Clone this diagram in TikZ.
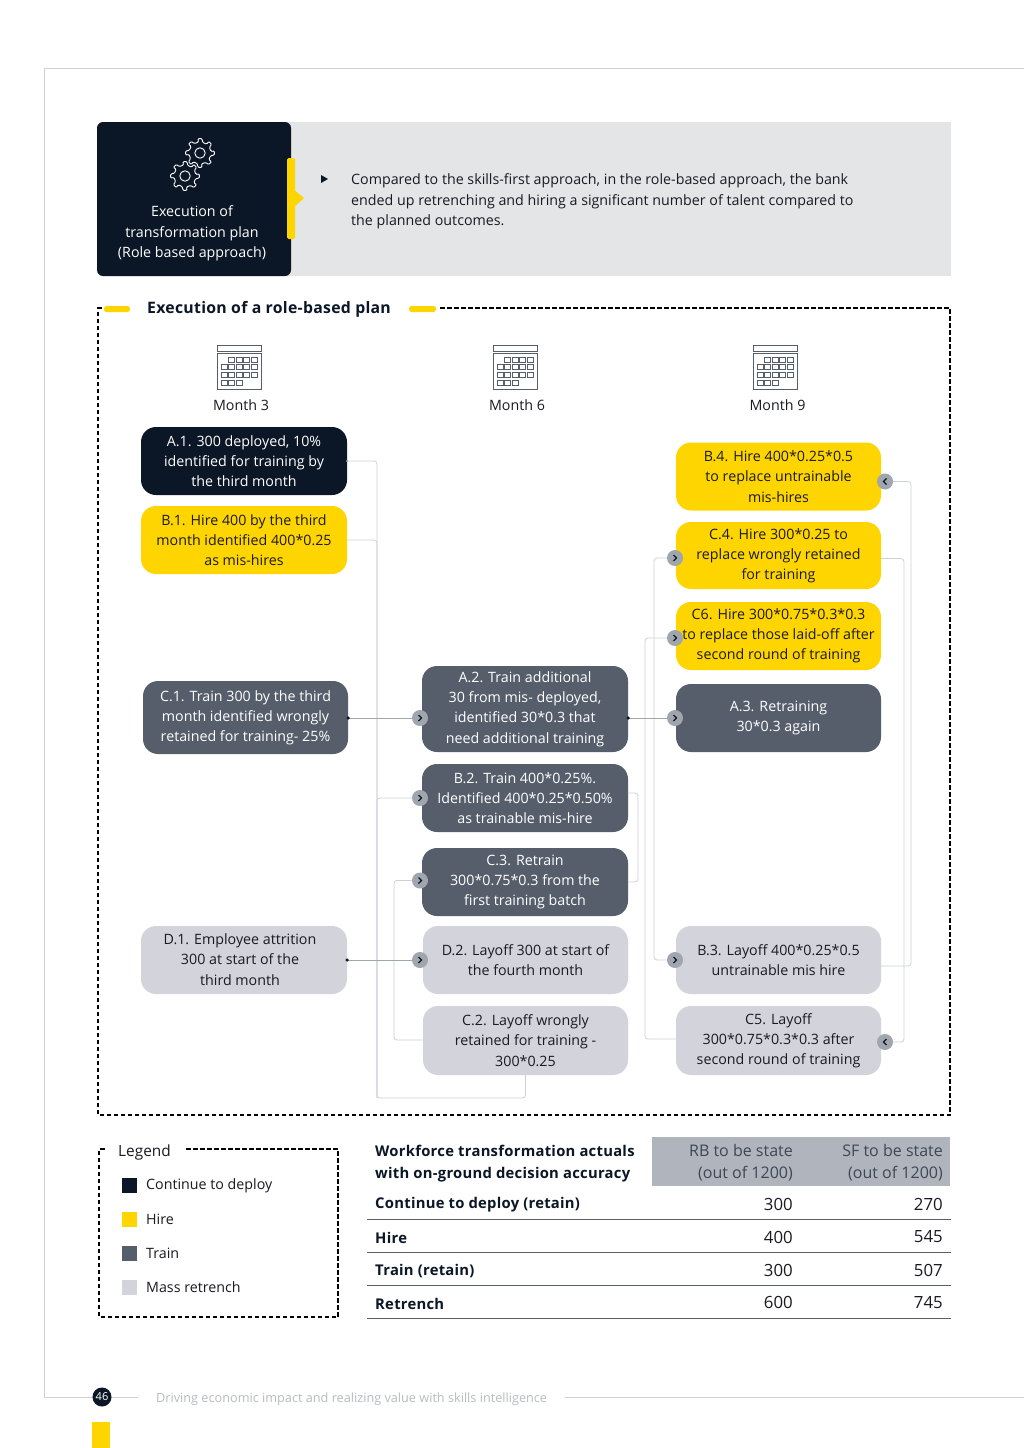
\documentclass[tikz,border=0pt]{standalone}
\usepackage{fontspec}
\setmainfont{Open Sans}
\newfontfamily\tablebold[LetterSpace=1.8]{Open Sans}
\definecolor{cdark}{HTML}{0B1626}
\definecolor{cyel}{HTML}{FFD500}
\definecolor{cslate}{HTML}{565E6B}
\definecolor{clight}{HTML}{D3D3DB}
\definecolor{cmark}{HTML}{A0A6AE}
\definecolor{cline}{HTML}{CDD1D6}
\definecolor{cpanel}{HTML}{E4E5E7}
\definecolor{ctxt}{HTML}{1A1A24}
\definecolor{cfoot}{HTML}{B8BBBF}
\definecolor{chead}{HTML}{B0B5BD}
\definecolor{chtx}{HTML}{3F4754}
\tikzset{
  bx/.style={rounded corners=15pt,inner sep=0pt,align=center,font=\fontsize{14.25}{20.2}\selectfont},
  bdark/.style={bx,fill=cdark,text=white},
  byel/.style={bx,fill=cyel,text=ctxt},
  bslate/.style={bx,fill=cslate,text=white},
  blight/.style={bx,fill=clight,text=ctxt},
  mk/.style={circle,fill=cmark,minimum size=16pt,inner sep=0pt},
  chev/.style={draw=cdark,line width=1.3pt},
  con/.style={draw=cline,line width=.8pt,rounded corners=3pt},
  cond/.style={draw=cmark,line width=.8pt},
  dotn/.style={circle,fill=cdark,minimum size=3.5pt,inner sep=0pt},
  dashbox/.style={draw=black,line width=1.4pt,dash pattern=on 4.5pt off 2.5pt},
  txt/.style={inner sep=0pt,text=ctxt,font=\fontsize{14.25}{20.2}\selectfont},
  btxt/.style={inner sep=0pt,text=cdark,font=\tablebold\fontsize{14.8}{22}\selectfont\bfseries},
  hdr/.style={inner sep=0pt,anchor=east,align=right,text=chtx,font=\fontsize{16}{22}\selectfont},
  val/.style={inner sep=0pt,anchor=east,text=ctxt,font=\fontsize{16.8}{22}\selectfont},
  rowl/.style={draw=cslate,line width=1pt},
  cal/.style={draw=cslate,line width=.9pt},
}
\newcommand{\calicon}[2]{%
  \begin{scope}[shift={(#1,#2)}]
    \draw[cal] (-22,-21.5) rectangle (22,-16);
    \draw[cal] (-22,-14) rectangle (22,22);
    \foreach \c in {1,2,3,4} \draw[cal] ({-11+7.5*(\c-1)},-10) rectangle ++(6,5);
    \foreach \c in {0,1,2,3,4} \draw[cal] ({-18.5+7.5*\c},-3) rectangle ++(6,5.5);
    \foreach \c in {0,1,2,3,4} \draw[cal] ({-18.5+7.5*\c},5) rectangle ++(6,5.5);
    \foreach \c in {0,1,2} \draw[cal] ({-18.5+7.5*\c},13) rectangle ++(6,5);
  \end{scope}}
\newcommand{\gearicon}[2]{%
  \begin{scope}[shift={(#1,#2)}]
    \draw[white,line width=.9pt,rounded corners=1pt]
      (-8:11) \foreach \a in {0,45,...,315} {
        -- (\a-8:14.5) -- (\a+8:14.5) -- (\a+14:11) -- (\a+37:11)
      } -- cycle;
    \draw[white,line width=.9pt] (0,0) circle (5.2);
  \end{scope}}
\newcommand{\mkright}[3]{% name,x,y
  \node[mk] (#1) at (#2,#3) {};
  \draw[chev] ([shift={(-1.5pt,3pt)}]#1.center) -- ([shift={(1.5pt,0pt)}]#1.center) -- ([shift={(-1.5pt,-3pt)}]#1.center);}
\newcommand{\mkleft}[3]{%
  \node[mk] (#1) at (#2,#3) {};
  \draw[chev] ([shift={(1.5pt,3pt)}]#1.center) -- ([shift={(-1.5pt,0pt)}]#1.center) -- ([shift={(1.5pt,-3pt)}]#1.center);}
\begin{document}
\begin{tikzpicture}[x=1pt,y=-1pt]
\useasboundingbox (0,0) rectangle (1024,1448);
\fill[white] (0,0) rectangle (1024,1448);
% page frame
\draw[cline,line width=.7pt] (1024,68) -- (44,68) -- (44,1397) -- (138,1397);
\draw[cline,line width=.7pt] (565,1397) -- (1024,1397);
\node[circle,fill=cdark,text=white,minimum size=19pt,inner sep=0pt,font=\fontsize{11}{11}\selectfont] (pg) at (102,1397) {46};
\fill[cyel] (92,1422) rectangle (110,1448);
\node[anchor=west,inner sep=0pt,text=cfoot,font=\fontsize{12.7}{16}\selectfont] (foot) at (156,1399) {Driving economic impact and realizing value with skills intelligence};
% header
\fill[cpanel] (285,122) rectangle (951,276);
\fill[cdark,rounded corners=6pt] (97,122) rectangle (291,276);
\fill[cyel,rounded corners=1.5pt] (287,158) rectangle (295,239);
\fill[cyel] (294,190) -- (304,198) -- (294,207) -- cycle;
\gearicon{200}{153}
\gearicon{185}{176}
\node[inner sep=0pt,align=center,text=white,font=\fontsize{14.25}{20.4}\selectfont] (htitle) at (192,233.5) {Execution of\\transformation plan\\(Role based approach)};
\fill[cdark] (321,175) -- (328,179) -- (321,183) -- cycle;
\node[anchor=north west,inner sep=0pt,align=left,text=ctxt,font=\fontsize{14.25}{20.6}\selectfont] (htext) at (351,173.5) {Compared to the skills-first approach, in the role-based approach, the bank\\ended up retrenching and hiring a significant number of talent compared to\\the planned outcomes.};
% main dashed frame
\draw[dashbox] (440,308) -- (950,308) -- (950,1115) -- (98,1115) -- (98,308) -- (102,308);
\fill[cyel,rounded corners=2.5pt] (104,306) rectangle (130,312);
\fill[cyel,rounded corners=2.5pt] (409,306) rectangle (436,312);
\node[anchor=west,inner sep=0pt,text=cdark,font=\tablebold\fontsize{15.8}{20}\selectfont\bfseries] (ptitle) at (147,309) {Execution of a role-based plan};
% months
\calicon{239.5}{367}
\calicon{515.5}{367}
\calicon{775.5}{367}
\node[txt] (m3) at (241,405.5) {Month 3};
\node[txt] (m6) at (517,405.5) {Month 6};
\node[txt] (m9) at (777.5,405.5) {Month 9};
% boxes
\node[bdark,minimum width=206pt,minimum height=68pt] (a1) at (244,461) {A.1. 300 deployed, 10\%\\identified for training by\\the third month};
\node[byel,minimum width=206pt,minimum height=68pt] (b1) at (244,540) {B.1. Hire 400 by the third\\month identified 400*0.25\\as mis-hires};
\node[bslate,minimum width=205pt,minimum height=73pt] (c1) at (245.5,717.5) {C.1. Train 300 by the third\\month identified wrongly\\retained for training- 25\%};
\node[blight,minimum width=206pt,minimum height=68pt] (d1) at (244,960) {};
\node[txt,align=center] (d1t) at (240,959.5) {D.1. Employee attrition\\300 at start of the\\third month};
\node[bslate,minimum width=206pt,minimum height=86pt] (a2) at (525,709) {A.2. Train additional\\30 from mis- deployed,\\identified 30*0.3 that\\need additional training};
\node[bslate,minimum width=206pt,minimum height=68pt] (b2) at (525,798) {B.2. Train 400*0.25\%.\\Identified 400*0.25*0.50\%\\as trainable mis-hire};
\node[bslate,minimum width=206pt,minimum height=68pt] (c3) at (525,882) {C.3. Retrain\\300*0.75*0.3 from the\\first training batch};
\node[blight,minimum width=205pt,minimum height=68pt] (d2) at (525.5,960) {D.2. Layoff 300 at start of\\the fourth month};
\node[blight,minimum width=205pt,minimum height=69pt] (c2) at (525.5,1040.5) {C.2. Layoff wrongly\\retained for training -\\300*0.25};
\node[byel,minimum width=205pt,minimum height=68pt] (b4) at (778.5,476.5) {B.4. Hire 400*0.25*0.5\\to replace untrainable\\mis-hires};
\node[byel,minimum width=205pt,minimum height=67pt] (c4) at (778.5,555.5) {C.4. Hire 300*0.25 to\\replace wrongly retained\\for training};
\node[byel,minimum width=205pt,minimum height=68pt] (c6) at (778.5,636) {C6. Hire 300*0.75*0.3*0.3\\to replace those laid-off after\\second round of training};
\node[bslate,minimum width=205pt,minimum height=68pt] (a3) at (778.5,718) {A.3. Retraining\\30*0.3 again};
\node[blight,minimum width=205pt,minimum height=68pt] (b3) at (778.5,960) {B.3. Layoff 400*0.25*0.5\\untrainable mis hire};
\node[blight,minimum width=205pt,minimum height=69pt] (c5) at (778.5,1040.5) {C5. Layoff\\300*0.75*0.3*0.3 after\\second round of training};
% markers
\mkright{ma2}{420}{718}
\mkright{mb2}{420}{798}
\mkright{mc3}{420}{880.5}
\mkright{md2}{420}{960}
\mkright{ma3}{675}{718}
\mkright{mc4}{675}{558}
\mkright{mc6}{675}{638}
\mkright{mb3}{675}{960}
\mkleft{mb4}{885}{481.5}
\mkleft{mc5}{885}{1042}
% rails
\coordinate (railA) at (377,1098);
\coordinate (railB) at (638,882);
\coordinate (railC) at (394,1040);
\coordinate (railD) at (654,960);
\coordinate (railE) at (645,1039);
\coordinate (railF) at (911,966);
\coordinate (railG) at (904,1042);
% connectors
\draw[con] (a1.east) -| (railA) -| (c2.south);
\draw[con] (b1.east) -| (railA);
\draw[con] (mb2.west) -| (railA);
\draw[con] ([yshift=5pt]b2.east) -| (railB) -- (c3.east |- railB);
\draw[con] (mc3.west) -| (railC) -- (c2.west |- railC);
\draw[con] (mc4.west) -| (railD) -- (mb3.west);
\draw[con] (mc6.west) -| (railE) -- (c5.west |- railE);
\draw[con] (mb4.east) -| (railF) -- (b3.east |- railF);
\draw[con] ([yshift=-3pt]c4.east) -| (railG) -- (mc5.east);
\draw[cond] (c1.east |- ma2) -- (ma2.west);
\draw[cond] (a2.east |- ma3) -- (ma3.west);
\draw[cond] (d1.east) -- (md2.west);
\node[dotn] (dc1) at (c1.east |- ma2) {};
\node[dotn] (da2) at (a2.east |- ma3) {};
\node[dotn] (dd1) at (d1.east) {};
\node[dotn,minimum size=2.5pt,fill=cmark] (da1) at (a1.east) {};
% legend
\draw[dashbox] (186,1149) -- (338,1149) -- (338,1317) -- (99,1317) -- (99,1149) -- (107,1149);
\node[anchor=west,inner sep=0pt,text=ctxt,font=\fontsize{15.4}{20}\selectfont] (lt) at (118,1152) {Legend};
\fill[cdark] (122,1178) rectangle (137,1193);
\fill[cyel] (122,1212) rectangle (137,1227);
\fill[cslate] (122,1246) rectangle (137,1261);
\fill[clight] (122,1280) rectangle (137,1295);
\node[txt,anchor=west] (l1) at (146,1185.5) {Continue to deploy};
\node[txt,anchor=west] (l2) at (146,1219.5) {Hire};
\node[txt,anchor=west] (l3) at (146,1253.5) {Train};
\node[txt,anchor=west] (l4) at (146,1287.5) {Mass retrench};
% table
\fill[chead] (652,1137) rectangle (950,1186);
\node[btxt,anchor=west,align=left] (th) at (375,1164) {Workforce transformation actuals\\with on-ground decision accuracy};
\node[hdr] (th1) at (793,1163) {RB to be state\\(out of 1200)};
\node[hdr] (th2) at (943,1163) {SF to be state\\(out of 1200)};
\node[btxt,anchor=west] (r1) at (375,1205) {Continue to deploy (retain)};
\node[btxt,anchor=west] (r2) at (375,1238) {Hire};
\node[btxt,anchor=west] (r3) at (375,1271) {Train (retain)};
\node[btxt,anchor=west] (r4) at (375,1303.5) {Retrench};
\node[val] (v11) at (793,1204) {300};
\node[val] (v12) at (943,1204) {270};
\node[val] (v21) at (793,1237) {400};
\node[val] (v22) at (943,1237) {545};
\node[val] (v31) at (793,1270) {300};
\node[val] (v32) at (943,1270) {507};
\node[val] (v41) at (793,1302.5) {600};
\node[val] (v42) at (943,1302.5) {745};
\draw[rowl] (367,1219) -- (951,1219);
\draw[rowl] (367,1252) -- (951,1252);
\draw[rowl] (367,1285) -- (951,1285);
\draw[rowl] (367,1318) -- (951,1318);
\end{tikzpicture}
\end{document}
